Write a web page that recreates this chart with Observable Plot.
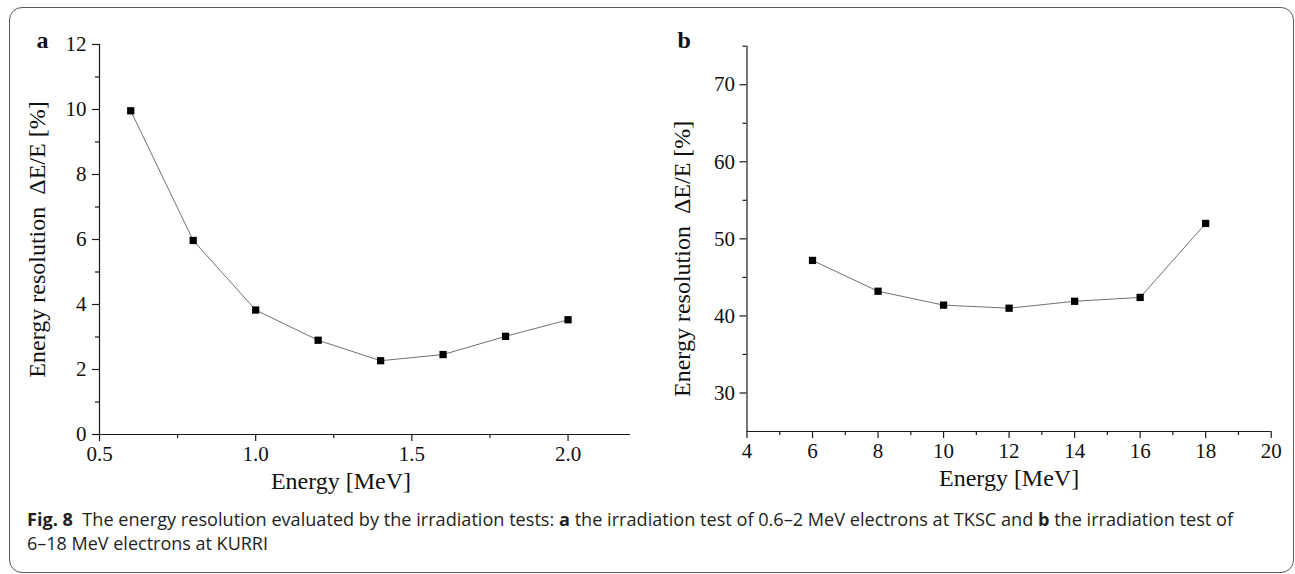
<!DOCTYPE html>
<html>
<head>
<meta charset="utf-8">
<script src="https://cdn.jsdelivr.net/npm/d3@7"></script>
<script src="https://cdn.jsdelivr.net/npm/@observablehq/plot@0.6"></script>
<style>
  html, body { margin: 0; padding: 0; background: #fff; width: 1295px; height: 574px; overflow: hidden; }
  #frame { position: absolute; left: 9px; top: 7px; width: 1285px; height: 566px; box-sizing: border-box;
           border: 1.5px solid #5a5a5a; border-radius: 13px; }
  .panel { position: absolute; top: 0; }
  .panel svg, .panel svg text { font-family: "Liberation Serif", "DejaVu Serif", serif !important; }
  #capsvg { position: absolute; left: 0; top: 500px; }
  #capsvg text { font-family: "Open Sans", "Noto Sans", sans-serif; font-size: 17.5px; fill: #231f20; white-space: pre; }
</style>
</head>
<body>
<div id="frame"></div>
<div id="pa" class="panel" style="left:0px"></div>
<div id="pb" class="panel" style="left:640px"></div>
<svg id="capsvg" width="1295" height="74">
  <text x="27" y="26" textLength="1206" lengthAdjust="spacingAndGlyphs"><tspan font-weight="bold">Fig. 8</tspan>  The energy resolution evaluated by the irradiation tests: <tspan font-weight="bold">a</tspan> the irradiation test of 0.6–2 MeV electrons at TKSC and <tspan font-weight="bold">b</tspan> the irradiation test of</text>
  <text x="27" y="50" textLength="241" lengthAdjust="spacingAndGlyphs">6–18 MeV electrons at KURRI</text>
</svg>
<script>
// Panel a data
const energyA = [0.6, 0.8, 1.0, 1.2, 1.4, 1.6, 1.8, 2.0];
const resA = [9.96, 5.97, 3.83, 2.90, 2.27, 2.46, 3.02, 3.53];
const xMajorA = [0.5, 1.0, 1.5, 2.0];
const xMinorA = [0.75, 1.25, 1.75];
const yMajorA = [0, 2, 4, 6, 8, 10, 12];
const yMinorA = [1, 3, 5, 7, 9, 11];

// Panel b data
const energyB = [6, 8, 10, 12, 14, 16, 18];
const resB = [47.2, 43.2, 41.4, 41.0, 41.9, 42.4, 52.0];
const xMajorB = [4, 6, 8, 10, 12, 14, 16, 18, 20];
const xMinorB = [5, 7, 9, 11, 13, 15, 17, 19];
const yMajorB = [30, 40, 50, 60, 70];
const yMinorB = [35, 45, 55, 65, 75];

const xTitle = "Energy [MeV]";
const yTitle = "Energy resolution\u00a0 ΔE/E [%]";

const dataA = energyA.map((e, i) => ({e, r: resA[i]}));
const dataB = energyB.map((e, i) => ({e, r: resB[i]}));

const axisColor = "#1a1a1a";
const serif = "Liberation Serif";

function panel(o) {
  const tickText = {fontFamily: serif, fontSize: 21, fill: "#111", fontVariant: "normal"};
  return Plot.plot({
    width: o.width, height: 510,
    marginLeft: o.ml, marginRight: o.mr, marginTop: o.mt, marginBottom: o.mb,
    style: {fontFamily: serif, fontSize: "21px", color: "#111", background: "none", overflow: "visible"},
    x: {domain: o.xd},
    y: {domain: o.yd},
    marks: [
      Plot.ruleY([o.yd[0]], {stroke: axisColor, strokeWidth: 1.2}),
      Plot.ruleX([o.xd[0]], {stroke: axisColor, strokeWidth: 1.2}),
      Plot.axisX({ticks: o.xMaj, tickSize: 7, tickPadding: 5, tickFormat: o.xf, label: null, stroke: axisColor, strokeWidth: 1.2, ...tickText}),
      Plot.axisX({ticks: o.xMin, tickSize: 4, text: null, label: null, stroke: axisColor, strokeWidth: 1.2}),
      Plot.axisY({ticks: o.yMaj, tickSize: 7, tickPadding: o.yPad, tickFormat: d => String(d), label: null, stroke: axisColor, strokeWidth: 1.2, ...tickText}),
      Plot.axisY({ticks: o.yMin, tickSize: 4, text: null, label: null, stroke: axisColor, strokeWidth: 1.2}),
      Plot.line(o.data, {x: "e", y: "r", stroke: "#707070", strokeWidth: 1}),
      Plot.dot(o.data, {x: "e", y: "r", symbol: "square", r: 4.1, fill: "#000"}),
      Plot.text([xTitle], {frameAnchor: "bottom", textAnchor: "middle", dx: o.xtdx, dy: 54, fontSize: 24, fontFamily: serif, fill: "#111"}),
      Plot.text([yTitle], {frameAnchor: "left", textAnchor: "middle", lineAnchor: "middle", rotate: -90, dx: o.ytdx, dy: o.ytdy, fontSize: 24, fontFamily: serif, fill: "#111"}),
      Plot.text([o.letter], {frameAnchor: "top-left", textAnchor: "start", lineAnchor: "middle", dx: o.ldx, dy: -4.5 + (44 - o.mt), fontSize: 24, fontWeight: "bold", fontFamily: serif, fill: "#111"})
    ]
  });
}

document.getElementById("pa").append(panel({
  width: 650, ml: 99, mr: 20, mt: 44, mb: 76,
  xd: [0.5, 2.2], yd: [0, 12],
  xMaj: xMajorA, xMin: xMinorA, yMaj: yMajorA, yMin: yMinorA,
  xf: d => d.toFixed(1), yPad: 6,
  data: dataA, xtdx: -24, ytdx: -61.7, ytdy: 0, letter: "a", ldx: -63
}));

document.getElementById("pb").append(panel({
  width: 655, ml: 106.5, mr: 24.3, mt: 45.7, mb: 79,
  xd: [4, 20], yd: [25, 75],
  xMaj: xMajorB, xMin: xMinorB, yMaj: yMajorB, yMin: yMinorB,
  xf: d => String(d), yPad: 5,
  data: dataB, xtdx: 0, ytdx: -64.7, ytdy: 20, letter: "b", ldx: -69.5
}));
</script>
</body>
</html>
